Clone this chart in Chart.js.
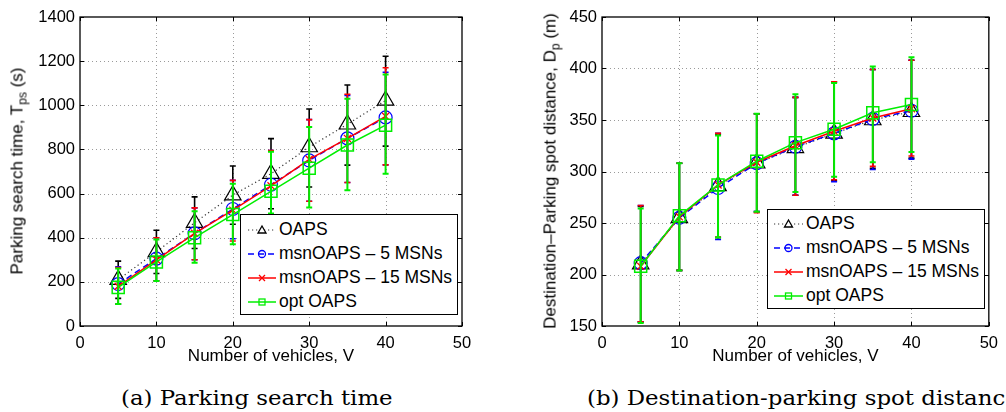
<!DOCTYPE html>
<html>
<head>
<meta charset="utf-8">
<script src="https://cdn.jsdelivr.net/npm/chart.js@4.4.1/dist/chart.umd.min.js"></script>
<style>
  html, body { margin:0; padding:0; background:#fff; }
  body { width:1006px; height:412px; overflow:hidden; position:relative; font-family:"Liberation Sans", Arial, Helvetica, sans-serif; }
  .cw { position:absolute; top:0; height:367px; }
  .ytitle { position:absolute; white-space:nowrap; font-size:17px; color:#000; transform:translate(-50%,-50%) rotate(-90deg); line-height:1; }
  .ytitle sub { font-size:12px; vertical-align:-4px; line-height:0; }
  .legend { position:absolute; background:#fff; border:1px solid #000; box-sizing:border-box; }
  .legend svg { position:absolute; left:0; top:0; }
  .legend .lt { position:absolute; font-size:17.5px; white-space:nowrap; line-height:1; transform:translateY(-50%); color:#000; }
  .cap { position:absolute; font-family:"DejaVu Serif", "Liberation Serif", serif; font-size:21px; line-height:24px; white-space:nowrap; color:#000; transform-origin:0 50%; display:inline-block; }
</style>
</head>
<body>
<div class="cw" style="left:0;width:500px"><canvas id="c1" width="500" height="367"></canvas></div>
<div class="cw" style="left:500px;width:506px"><canvas id="c2" width="506" height="367"></canvas></div>

<div class="ytitle" style="left:17px;top:171px">Parking search time, T<sub>ps</sub> (s)</div>
<div class="ytitle" style="left:550px;top:171px">Destination–Parking spot distance, D<sub>p</sub> (m)</div>

<div class="legend" id="lg1" style="left:240px;top:214px;width:218px;height:101px"></div>
<div class="legend" id="lg2" style="left:767px;top:209px;width:218px;height:100px"></div>

<div class="cap" id="capA" style="left:121px;top:386px">(a) Parking search time</div>
<div class="cap" id="capB" style="left:587px;top:386px">(b) Destination-parking spot distance</div>

<script>
// ---------- data ----------
const vehicles = [5, 10, 15, 20, 25, 30, 35, 40];
const seriesNames = ["OAPS", "msnOAPS – 5 MSNs", "msnOAPS – 15 MSNs", "opt OAPS"];

// (a) Parking search time (s)
const tOAPS     = [210, 336, 468, 593, 690, 811, 914, 1022];
const tOAPSLo   = [125, 238, 351, 461, 531, 630, 729, 815];
const tOAPSHi   = [294, 434, 585, 725, 849, 983, 1092, 1222];
const tMsn5     = [190, 305, 420, 530, 640, 750, 850, 945];
const tMsn5Lo   = [100, 205, 300, 395, 490, 565, 650, 730];
const tMsn5Hi   = [268, 400, 535, 660, 795, 935, 1045, 1150];
const tMsn15    = [180, 300, 420, 525, 635, 755, 850, 950];
const tMsn15Lo  = [100, 205, 300, 385, 490, 565, 650, 730];
const tMsn15Hi  = [265, 400, 535, 660, 795, 935, 1050, 1170];
const tOpt      = [175, 290, 400, 505, 610, 715, 820, 910];
const tOptLo    = [100, 204, 287, 370, 510, 537, 615, 690];
const tOptHi    = [260, 392, 520, 645, 789, 902, 1030, 1140];
const tTicks    = [0, 200, 400, 600, 800, 1000, 1200, 1400];

// (b) Destination-parking spot distance (m)
const dOAPS     = [210, 255, 286, 308, 323, 337, 350, 358];
const dOAPSLo   = [154, 204, 236, 261, 277, 291, 303, 313];
const dOAPSHi   = [266, 308, 336, 356, 372, 387, 399, 408];
const dMsn5     = [211, 255, 284, 308, 324, 337, 351, 359];
const dMsn5Lo   = [154, 204, 234, 261, 277, 290, 302, 312];
const dMsn5Hi   = [267, 308, 337, 356, 372, 387, 399, 408];
const dMsn15    = [208, 256, 287, 309, 325, 339, 352, 361];
const dMsn15Lo  = [154, 204, 236, 260, 277, 292, 305, 315];
const dMsn15Hi  = [267, 308, 337, 356, 372, 387, 399, 408];
const dOpt      = [208, 257, 287, 310, 328, 341, 357, 365];
const dOptLo    = [153, 204, 236, 261, 280, 295, 309, 319];
const dOptHi    = [264, 308, 335, 356, 375, 386, 402, 411];
const dTicks    = [150, 200, 250, 300, 350, 400, 450];

const xTicks = [0, 10, 20, 30, 40, 50];

// ---------- styles ----------
const FONT = '"Liberation Sans", Arial, Helvetica, sans-serif';
Chart.defaults.font.family = FONT;
Chart.defaults.color = '#000';

const styles = [
  { color:'#000000', line:'#333333', dash:[1.2,2.8], pointStyle:'triangle', r:9.5, bw:1.2 },
  { color:'#0000ff', line:'#0000ff', dash:[6,4],     pointStyle:'circle',   r:6.5, bw:1.2 },
  { color:'#ff0000', line:'#ff0000', dash:[],        pointStyle:'crossRot', r:5,   bw:1.3 },
  { color:'#00ee00', line:'#00ee00', dash:[],        pointStyle:'rect',     r:8.5, bw:1.5 }
];

function makeDatasets(vals, los, his) {
  return vals.map((v, i) => ({
    label: seriesNames[i],
    data: vehicles.map((x, k) => ({ x: x, y: v[k] })),
    lo: los[i], hi: his[i],
    borderColor: styles[i].line,
    borderDash: styles[i].dash,
    borderWidth: i === 0 ? 1.2 : 1.5,
    pointStyle: styles[i].pointStyle,
    pointRadius: styles[i].r,
    pointHoverRadius: styles[i].r,
    pointBorderColor: styles[i].color,
    pointBackgroundColor: 'rgba(0,0,0,0)',
    pointBorderWidth: styles[i].bw,
    errColor: styles[i].color,
    tension: 0,
    fill: false,
    order: 4 - i
  }));
}

// ---------- plugin: grid, error bars, box, inward ticks ----------
const framePlugin = {
  id: 'frame',
  beforeDatasetsDraw(chart) {
    const { ctx, chartArea: a, scales: { x, y } } = chart;
    ctx.save();
    ctx.strokeStyle = '#9a9a9a';
    ctx.lineWidth = 1;
    ctx.setLineDash([1, 3]);
    x.ticks.forEach(t => {
      const px = Math.round(x.getPixelForValue(t.value)) + 0.5;
      if (px <= a.left + 1 || px >= a.right - 1) return;
      ctx.beginPath(); ctx.moveTo(px, a.top); ctx.lineTo(px, a.bottom); ctx.stroke();
    });
    y.ticks.forEach(t => {
      const py = Math.round(y.getPixelForValue(t.value)) + 0.5;
      if (py <= a.top + 1 || py >= a.bottom - 1) return;
      ctx.beginPath(); ctx.moveTo(a.left, py); ctx.lineTo(a.right, py); ctx.stroke();
    });
    ctx.restore();
  },
  afterDatasetDraw(chart, args) {
    const ds = chart.data.datasets[args.index];
    const { ctx, scales: { x, y } } = chart;
    ctx.save();
    ctx.strokeStyle = ds.errColor;
    ctx.lineWidth = args.index === 3 ? 2 : 1.6;
    ctx.setLineDash([]);
    vehicles.forEach((vx, k) => {
      const px = x.getPixelForValue(vx);
      const pl = y.getPixelForValue(ds.lo[k]);
      const ph = y.getPixelForValue(ds.hi[k]);
      ctx.beginPath();
      ctx.moveTo(px, pl); ctx.lineTo(px, ph);
      ctx.moveTo(px - 3, pl); ctx.lineTo(px + 3, pl);
      ctx.moveTo(px - 3, ph); ctx.lineTo(px + 3, ph);
      ctx.stroke();
    });
    ctx.restore();
  },
  afterDraw(chart) {
    const { ctx, chartArea: a, scales: { x, y } } = chart;
    ctx.save();
    ctx.strokeStyle = '#000';
    ctx.lineWidth = 1.3;
    ctx.setLineDash([]);
    ctx.strokeRect(a.left, a.top, a.right - a.left, a.bottom - a.top);
    ctx.lineWidth = 1;
    const L = 4;
    x.ticks.forEach(t => {
      const px = Math.round(x.getPixelForValue(t.value)) + 0.5;
      ctx.beginPath();
      ctx.moveTo(px, a.bottom); ctx.lineTo(px, a.bottom - L);
      ctx.moveTo(px, a.top); ctx.lineTo(px, a.top + L);
      ctx.stroke();
    });
    y.ticks.forEach(t => {
      const py = Math.round(y.getPixelForValue(t.value)) + 0.5;
      ctx.beginPath();
      ctx.moveTo(a.left, py); ctx.lineTo(a.left + L, py);
      ctx.moveTo(a.right, py); ctx.lineTo(a.right - L, py);
      ctx.stroke();
    });
    ctx.restore();
  }
};

function makeChart(id, datasets, yTicks, yWidth, padRight) {
  return new Chart(document.getElementById(id), {
    type: 'line',
    data: { datasets },
    plugins: [framePlugin],
    options: {
      responsive: false,
      animation: false,
      events: [],
      layout: { padding: { top: 17, right: padRight, left: 0, bottom: 0 } },
      plugins: { legend: { display: false }, tooltip: { enabled: false } },
      scales: {
        x: {
          type: 'linear', min: xTicks[0], max: xTicks[xTicks.length - 1],
          afterBuildTicks: s => { s.ticks = xTicks.map(v => ({ value: v })); },
          afterFit: s => { s.height = 41; },
          grid: { display: false, drawTicks: false },
          border: { display: false },
          ticks: { padding: 8, font: { size: 16.5 }, color: '#000', maxRotation: 0, callback: v => String(v) },
          title: { display: true, text: 'Number of vehicles, V', font: { size: 17 }, padding: { top: 0, bottom: 0 }, color: '#000' }
        },
        y: {
          type: 'linear', min: yTicks[0], max: yTicks[yTicks.length - 1],
          afterBuildTicks: s => { s.ticks = yTicks.map(v => ({ value: v })); },
          afterFit: s => { s.width = yWidth; },
          grid: { display: false, drawTicks: false },
          border: { display: false },
          ticks: { padding: 5, font: { size: 16.5 }, color: '#000', callback: v => String(v) }
        }
      }
    }
  });
}

makeChart('c1', makeDatasets([tOAPS, tMsn5, tMsn15, tOpt], [tOAPSLo, tMsn5Lo, tMsn15Lo, tOptLo], [tOAPSHi, tMsn5Hi, tMsn15Hi, tOptHi]), tTicks, 80, 38);
makeChart('c2', makeDatasets([dOAPS, dMsn5, dMsn15, dOpt], [dOAPSLo, dMsn5Lo, dMsn15Lo, dOptLo], [dOAPSHi, dMsn5Hi, dMsn15Hi, dOptHi]), dTicks, 102, 12);

// ---------- legends ----------
function buildLegend(id, rows, x0, x1, textX) {
  const el = document.getElementById(id);
  const w = el.offsetWidth, h = el.offsetHeight;
  const ns = 'http://www.w3.org/2000/svg';
  const svg = document.createElementNS(ns, 'svg');
  svg.setAttribute('width', w); svg.setAttribute('height', h);
  rows.forEach((cy, i) => {
    const s = styles[i];
    const ln = document.createElementNS(ns, 'line');
    ln.setAttribute('x1', x0); ln.setAttribute('x2', x1);
    ln.setAttribute('y1', cy); ln.setAttribute('y2', cy);
    ln.setAttribute('stroke', s.line); ln.setAttribute('stroke-width', i === 0 ? 1.2 : 1.5);
    if (s.dash.length) ln.setAttribute('stroke-dasharray', s.dash.join(' '));
    svg.appendChild(ln);
    const mx = (x0 + x1) / 2;
    let m;
    if (s.pointStyle === 'triangle') {
      m = document.createElementNS(ns, 'polygon');
      m.setAttribute('points', `${mx},${cy - 4} ${mx - 4},${cy + 3} ${mx + 4},${cy + 3}`);
    } else if (s.pointStyle === 'circle') {
      m = document.createElementNS(ns, 'circle');
      m.setAttribute('cx', mx); m.setAttribute('cy', cy); m.setAttribute('r', 3.5);
    } else if (s.pointStyle === 'crossRot') {
      m = document.createElementNS(ns, 'path');
      m.setAttribute('d', `M${mx - 3},${cy - 3}L${mx + 3},${cy + 3}M${mx - 3},${cy + 3}L${mx + 3},${cy - 3}`);
    } else {
      m = document.createElementNS(ns, 'rect');
      m.setAttribute('x', mx - 3); m.setAttribute('y', cy - 3); m.setAttribute('width', 6); m.setAttribute('height', 6);
    }
    m.setAttribute('fill', i === 0 ? '#fff' : 'none');
    m.setAttribute('stroke', s.color); m.setAttribute('stroke-width', 1.3);
    svg.appendChild(m);
    const t = document.createElement('div');
    t.className = 'lt';
    t.style.left = textX + 'px'; t.style.top = cy + 'px';
    t.textContent = seriesNames[i];
    el.appendChild(t);
  });
  el.appendChild(svg);
}
buildLegend('lg1', [15, 39, 63, 87], 7, 35, 38);
buildLegend('lg2', [14, 38, 62, 86], 6, 35, 38);

// ---------- captions: match the reference caption width ----------
(function fitCaptions() {
  const a = document.getElementById('capA');
  const b = document.getElementById('capB');
  const s = 272 / a.offsetWidth;
  a.style.transform = `scaleX(${s})`;
  b.style.transform = `scaleX(${s})`;
})();
</script>
</body>
</html>
